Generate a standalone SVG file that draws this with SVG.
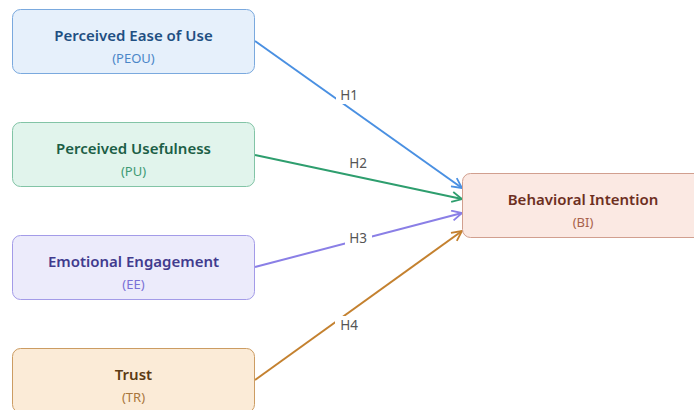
<svg xmlns="http://www.w3.org/2000/svg" width="694" height="410" viewBox="0 0 694 410">
  <defs>
    <style>
      .box { stroke-width: 1; }
      .title { font-family: "Noto Sans", "Open Sans", sans-serif; font-weight: 600; font-size: 15px; text-anchor: middle; }
      .sub { font-family: "Noto Sans", "Open Sans", sans-serif; font-size: 13px; text-anchor: middle; }
      .edge { fill: none; stroke-width: 2; }
      .lbl { font-family: "Noto Sans", "Open Sans", sans-serif; font-size: 13.5px; fill: #555; text-anchor: middle; }
      .lblbg { fill: #ffffff; }
    </style>
    <marker id="ah-blue" viewBox="0 0 12 12" refX="11" refY="6" markerWidth="12" markerHeight="12" markerUnits="userSpaceOnUse" orient="auto">
      <path d="M1,1 L11,6 L1,11" fill="none" stroke="#4a90e2" stroke-width="1.8"/>
    </marker>
    <marker id="ah-green" viewBox="0 0 12 12" refX="11" refY="6" markerWidth="12" markerHeight="12" markerUnits="userSpaceOnUse" orient="auto">
      <path d="M1,1 L11,6 L1,11" fill="none" stroke="#2e9e6e" stroke-width="1.8"/>
    </marker>
    <marker id="ah-purple" viewBox="0 0 12 12" refX="11" refY="6" markerWidth="12" markerHeight="12" markerUnits="userSpaceOnUse" orient="auto">
      <path d="M1,1 L11,6 L1,11" fill="none" stroke="#8a7fe6" stroke-width="1.8"/>
    </marker>
    <marker id="ah-orange" viewBox="0 0 12 12" refX="11" refY="6" markerWidth="12" markerHeight="12" markerUnits="userSpaceOnUse" orient="auto">
      <path d="M1,1 L11,6 L1,11" fill="none" stroke="#c4812f" stroke-width="1.8"/>
    </marker>
  </defs>

  <rect width="694" height="410" fill="#ffffff"/>

  <!-- connectors -->
  <g id="connectors">
    <line class="edge" x1="255" y1="41" x2="462" y2="188" stroke="#4a90e2" marker-end="url(#ah-blue)"/>
    <line class="edge" x1="255" y1="155" x2="462" y2="199" stroke="#2e9e6e" marker-end="url(#ah-green)"/>
    <line class="edge" x1="255" y1="267" x2="462" y2="213" stroke="#8a7fe6" marker-end="url(#ah-purple)"/>
    <line class="edge" x1="255" y1="380" x2="462" y2="231" stroke="#c4812f" marker-end="url(#ah-orange)"/>
    <rect class="lblbg" x="336" y="86" width="27" height="18"/>
    <text class="lbl" x="349" y="100">H1</text>
    <rect class="lblbg" x="345" y="154" width="27" height="18"/>
    <text class="lbl" x="358" y="168">H2</text>
    <rect class="lblbg" x="345" y="229" width="27" height="18"/>
    <text class="lbl" x="358" y="243">H3</text>
    <rect class="lblbg" x="335" y="316" width="27" height="18"/>
    <text class="lbl" x="349" y="330">H4</text>
  </g>

  <g id="peou">
    <rect class="box" x="12.5" y="9.5" width="242" height="64" rx="8" fill="#e6f0fb" stroke="#7aa9de"/>
    <text class="title" x="133.5" y="41" fill="#1f4f82">Perceived Ease of Use</text>
    <text class="sub" x="133.5" y="63" fill="#4a86c8">(PEOU)</text>
  </g>

  <g id="pu">
    <rect class="box" x="12.5" y="122.5" width="242" height="64" rx="8" fill="#e1f4ec" stroke="#82c4a6"/>
    <text class="title" x="133.5" y="154" fill="#1b5e46">Perceived Usefulness</text>
    <text class="sub" x="133.5" y="176" fill="#3d9a74">(PU)</text>
  </g>

  <g id="ee">
    <rect class="box" x="12.5" y="235.5" width="242" height="64" rx="8" fill="#ecebfb" stroke="#a39be8"/>
    <text class="title" x="133.5" y="267" fill="#413b8e">Emotional Engagement</text>
    <text class="sub" x="133.5" y="289" fill="#7a70d6">(EE)</text>
  </g>

  <g id="tr">
    <rect class="box" x="12.5" y="348.5" width="242" height="64" rx="8" fill="#fbebd7" stroke="#cc9c62"/>
    <text class="title" x="133.5" y="380" fill="#5c3b14">Trust</text>
    <text class="sub" x="133.5" y="402" fill="#a8763c">(TR)</text>
  </g>

  <g id="bi">
    <rect class="box" x="462.5" y="173.5" width="242" height="64" rx="8" fill="#fbe9e3" stroke="#d19f8f"/>
    <text class="title" x="583" y="205" fill="#6d2f1f">Behavioral Intention</text>
    <text class="sub" x="583" y="227" fill="#a8624c">(BI)</text>
  </g>
</svg>
